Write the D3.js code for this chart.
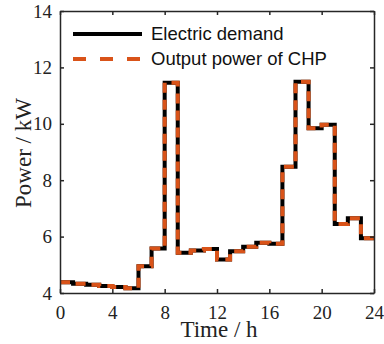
<!DOCTYPE html>
<html>
<head>
<meta charset="utf-8">
<script src="https://cdn.jsdelivr.net/npm/d3@7"></script>
<style>
  html, body { margin: 0; padding: 0; background: #fff; }
  svg { display: block; }
</style>
</head>
<body>
<svg id="chart" width="384" height="344"></svg>
<script>
// Hourly electric demand and CHP output over one day (kW)
const hours = d3.range(0, 24);
const electricDemand = [4.38, 4.33, 4.29, 4.25, 4.21, 4.17, 4.95, 5.58, 11.46, 5.43, 5.51, 5.56,
                        5.19, 5.48, 5.64, 5.78, 5.75, 8.48, 11.49, 9.84, 9.97, 6.45, 6.65, 5.94];
const chpOutput      = [4.38, 4.33, 4.29, 4.25, 4.21, 4.17, 4.95, 5.58, 11.46, 5.43, 5.51, 5.56,
                        5.19, 5.48, 5.64, 5.78, 5.75, 8.48, 11.49, 9.84, 9.97, 6.45, 6.65, 5.94];
const xTicks = [0, 4, 8, 12, 16, 20, 24];
const yTicks = [4, 6, 8, 10, 12, 14];
const seriesNames = ["Electric demand", "Output power of CHP"];

const svg = d3.select("#chart");
const box = { left: 60, right: 374, top: 11, bottom: 293 };
const axisColor = "#262626";
const orange = "#D95319";

const x = d3.scaleLinear().domain([0, 24]).range([box.left, box.right]);
const y = d3.scaleLinear().domain([4, 14]).range([box.bottom, box.top]);

// step series: each hourly value holds until the next hour, closing at 24 h
const toSteps = vals => hours.map((h, i) => [h, vals[i]]).concat([[24, vals[vals.length - 1]]]);
const line = d3.line().x(d => x(d[0])).y(d => y(d[1])).curve(d3.curveStepAfter);

const plot = svg.append("g");
plot.append("path")
  .attr("d", line(toSteps(electricDemand)))
  .attr("fill", "none").attr("stroke", "#000").attr("stroke-width", 4);
plot.append("path")
  .attr("d", line(toSteps(chpOutput)))
  .attr("fill", "none").attr("stroke", orange).attr("stroke-width", 4)
  .attr("stroke-dasharray", "10,7");

// axes with inward ticks, mirrored on top and right
const tickLen = 4;
const bottomAxis = d3.axisBottom(x).tickValues(xTicks).tickSizeInner(-tickLen).tickSizeOuter(0).tickPadding(12);
const topAxis = d3.axisTop(x).tickValues(xTicks).tickSizeInner(-tickLen).tickSizeOuter(0).tickFormat("");
const leftAxis = d3.axisLeft(y).tickValues(yTicks).tickSizeInner(-tickLen).tickSizeOuter(0).tickPadding(8);
const rightAxis = d3.axisRight(y).tickValues(yTicks).tickSizeInner(-tickLen).tickSizeOuter(0).tickFormat("");

function styleAxis(g) {
  g.select(".domain").attr("stroke", axisColor).attr("stroke-width", 1.5);
  g.selectAll(".tick line").attr("stroke", axisColor).attr("stroke-width", 1.5);
  g.selectAll(".tick text")
    .attr("fill", "#222")
    .style("font-family", "'Liberation Serif', 'Times New Roman', serif")
    .style("font-size", "19px");
}

svg.append("g").attr("transform", `translate(0,${box.bottom})`).call(bottomAxis).call(styleAxis)
  .selectAll(".tick text").attr("dy", "0.71em").attr("y", 13);
svg.append("g").attr("transform", `translate(0,${box.top})`).call(topAxis).call(styleAxis);
svg.append("g").attr("transform", `translate(${box.left},0)`).call(leftAxis).call(styleAxis);
svg.append("g").attr("transform", `translate(${box.right},0)`).call(rightAxis).call(styleAxis);

// axis titles
svg.append("text")
  .attr("x", (box.left + box.right) / 2 + 2).attr("y", 337)
  .attr("text-anchor", "middle")
  .attr("fill", "#222")
  .style("font-family", "'Liberation Serif', 'Times New Roman', serif")
  .style("font-size", "23px")
  .text("Time / h");
svg.append("text")
  .attr("transform", `translate(31,${(box.top + box.bottom) / 2 + 1}) rotate(-90)`)
  .attr("text-anchor", "middle")
  .attr("fill", "#222")
  .style("font-family", "'Liberation Serif', 'Times New Roman', serif")
  .style("font-size", "23px")
  .text("Power / kW");

// legend
const legend = svg.append("g");
const legendRows = [
  { name: seriesNames[0], color: "#000", dash: null, y: 34 },
  { name: seriesNames[1], color: orange, dash: "13,14", y: 59 }
];
legendRows.forEach(r => {
  legend.append("line")
    .attr("x1", 73).attr("x2", 142).attr("y1", r.y).attr("y2", r.y)
    .attr("stroke", r.color).attr("stroke-width", 4)
    .attr("stroke-dasharray", r.dash);
  legend.append("text")
    .attr("x", 151).attr("y", r.y).attr("dy", "0.35em")
    .attr("fill", "#111")
    .style("font-family", "'Liberation Sans', Arial, sans-serif")
    .style("font-size", "18.5px")
    .text(r.name);
});
</script>
</body>
</html>
